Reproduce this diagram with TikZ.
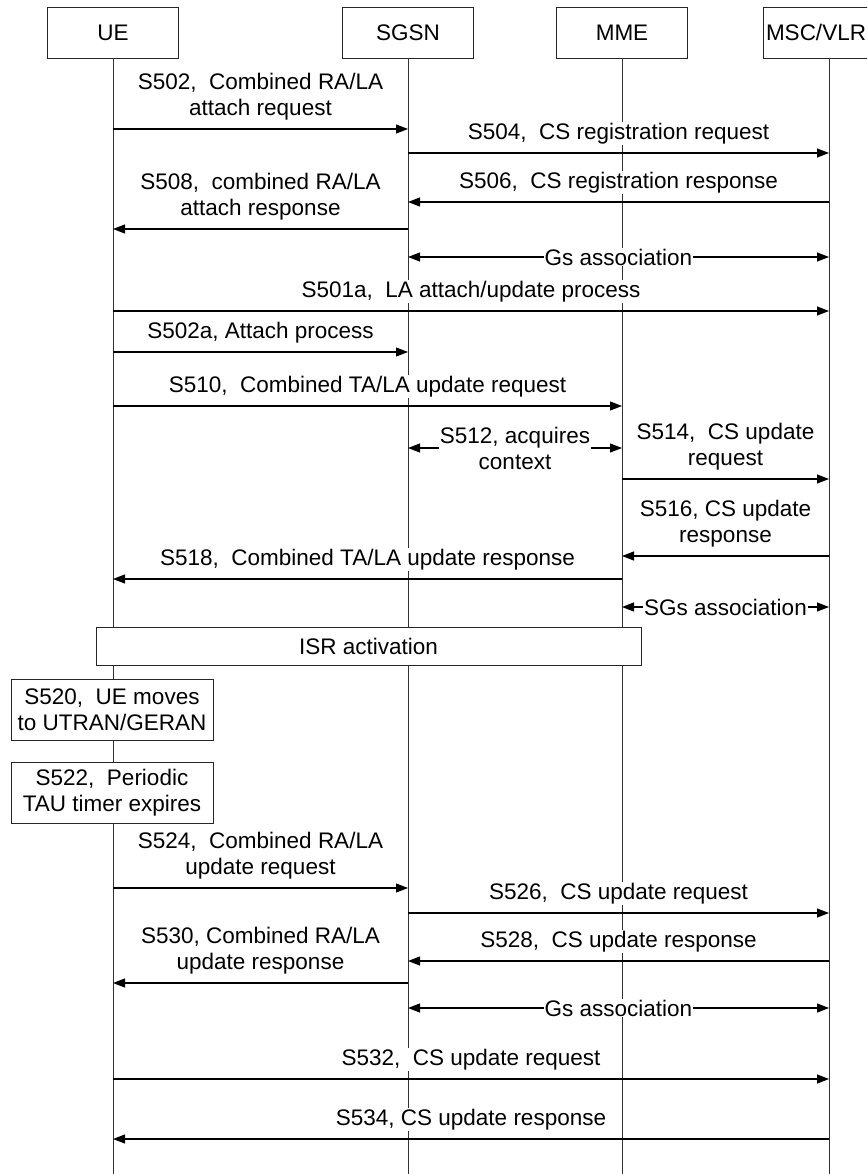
\documentclass[tikz,border=0pt]{standalone}
\usepackage{fontspec}
\setmainfont{Liberation Sans}
\usetikzlibrary{arrows.meta}
\begin{document}
\begin{tikzpicture}[x=1pt,y=-1pt,
  every node/.style={font=\fontsize{22.5}{26}\selectfont},
  hdr/.style={draw=black!85, line width=0.9pt, minimum width=131pt, minimum height=51pt, inner sep=0pt, fill=white, text height=16pt, text depth=0pt},
  life/.style={draw=black!80, line width=0.9pt},
  msg/.style={draw=black, line width=1.1pt, -{Triangle[length=12pt,width=9pt]}},
  bmsg/.style={draw=black, line width=1.1pt, {Triangle[length=12pt,width=9pt]}-{Triangle[length=12pt,width=9pt]}},
  lbl/.style={fill=white, inner sep=1pt, align=center},
  inl/.style={fill=white, inner sep=1pt, align=center},
  box/.style={draw=black!85, line width=0.9pt, fill=white, align=center, inner sep=0pt},
]
\fill[white] (0,0) rectangle (867,1174);
\clip (0,0) rectangle (867,1174);

% headers
\node[hdr] (ue)   at (113,32.5) {UE};
\node[hdr] (sgsn) at (408,32.5) {SGSN};
\node[hdr] (mme)  at (622,32.5) {MME};
\node[hdr] (msc)  at (829,32.5) {\hspace*{-26pt}MSC/VLR};

% lifelines
\foreach \n in {ue,sgsn,mme,msc}{
  \draw[life] (\n.south) -- (\n.center |- 0,1180);
}

% messages
\draw[msg] (ue.center |- 0,129) -- node[lbl,above=7pt]{S502,\ \ Combined RA/LA\\attach request} (sgsn.center |- 0,129);
\draw[msg] (sgsn.center |- 0,153) -- node[lbl,above=7pt]{S504,\ \ CS registration request} (msc.center |- 0,153);
\draw[msg] (msc.center |- 0,202) -- node[lbl,above=7pt]{S506,\ \ CS registration response} (sgsn.center |- 0,202);
\draw[msg] (sgsn.center |- 0,229) -- node[lbl,above=7pt]{S508,\ \ combined RA/LA\\attach response} (ue.center |- 0,229);
\draw[bmsg] (sgsn.center |- 0,257) -- node[inl]{Gs association} (msc.center |- 0,257);
\draw[msg] (ue.center |- 0,311) -- node[lbl,above=7pt]{S501a,\ \ LA attach/update process} (msc.center |- 0,311);
\draw[msg] (ue.center |- 0,352) -- node[lbl,above=7pt]{S502a, Attach process} (sgsn.center |- 0,352);
\draw[msg] (ue.center |- 0,406) -- node[lbl,above=7pt]{S510,\ \ Combined TA/LA update request} (mme.center |- 0,406);
\draw[bmsg] (sgsn.center |- 0,448) -- node[inl]{S512, acquires\\context} (mme.center |- 0,448);
\draw[msg] (mme.center |- 0,479) -- node[lbl,above=7pt]{S514,\ \ CS update\\request} (msc.center |- 0,479);
\draw[msg] (msc.center |- 0,556) -- node[lbl,above=7pt]{S516, CS update\\response} (mme.center |- 0,556);
\draw[msg] (mme.center |- 0,579) -- node[lbl,above=7pt]{S518,\ \ Combined TA/LA update response} (ue.center |- 0,579);
\draw[bmsg] (mme.center |- 0,607) -- node[inl]{SGs association} (msc.center |- 0,607);

% boxes
\node[box, minimum width=545pt, minimum height=38pt] (isr) at (368.5,646) {ISR activation};
\node[box, minimum width=202pt, minimum height=61pt] (s520) at (112,709.5) {S520,\ \ UE moves\\to UTRAN/GERAN};
\node[box, minimum width=202pt, minimum height=61pt] (s522) at (112,792.5) {S522,\ \ Periodic\\TAU timer expires};

\draw[msg] (ue.center |- 0,888) -- node[lbl,above=7pt]{S524,\ \ Combined RA/LA\\update request} (sgsn.center |- 0,888);
\draw[msg] (sgsn.center |- 0,913) -- node[lbl,above=7pt]{S526,\ \ CS update request} (msc.center |- 0,913);
\draw[msg] (msc.center |- 0,961) -- node[lbl,above=7pt]{S528,\ \ CS update response} (sgsn.center |- 0,961);
\draw[msg] (sgsn.center |- 0,983) -- node[lbl,above=7pt]{S530, Combined RA/LA\\update response} (ue.center |- 0,983);
\draw[bmsg] (sgsn.center |- 0,1008) -- node[inl]{Gs association} (msc.center |- 0,1008);
\draw[msg] (ue.center |- 0,1079) -- node[lbl,above=7pt]{S532,\ \ CS update request} (msc.center |- 0,1079);
\draw[msg] (msc.center |- 0,1139) -- node[lbl,above=7pt]{S534, CS update response} (ue.center |- 0,1139);
\end{tikzpicture}
\end{document}
